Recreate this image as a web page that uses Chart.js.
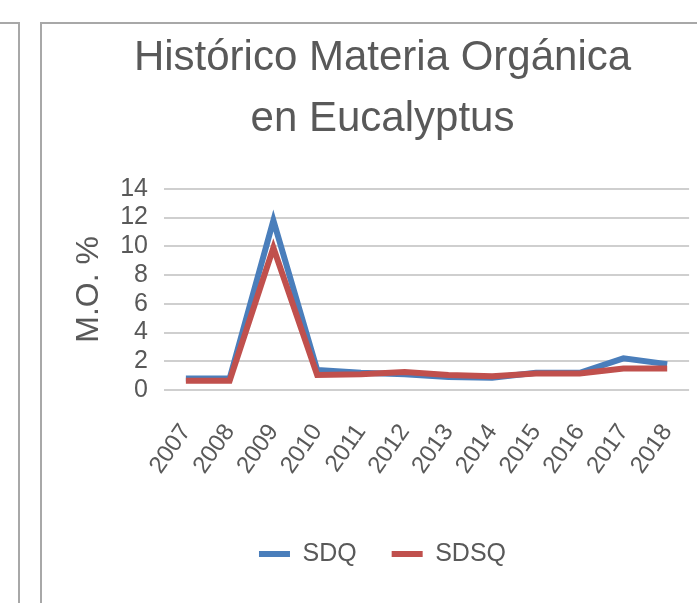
<!DOCTYPE html>
<html>
<head>
<meta charset="utf-8">
<script src="https://cdn.jsdelivr.net/npm/chart.js@4.4.1/dist/chart.umd.min.js"></script>
<style>
  html, body { margin: 0; padding: 0; background: #fff; overflow: hidden; }
  body { width: 697px; height: 603px; position: relative; }
  .panel-left { position: absolute; left: 0; top: 22px; width: 18px; height: 700px;
    border-top: 2px solid #a8a8a8; border-right: 2px solid #a8a8a8; }
  .panel-chart { position: absolute; left: 40px; top: 22px; width: 700px; height: 700px;
    border-top: 2px solid #a8a8a8; border-left: 2px solid #a8a8a8; }
  #chart { position: absolute; left: 43px; top: 24px; }
</style>
</head>
<body>
<div class="panel-left"></div>
<div class="panel-chart"></div>
<canvas id="chart" width="678" height="579"></canvas>
<script>
// HISTORICO MATERIA ORGANICA - EUCALYPTUS

const years = ["2007", "2008", "2009", "2010", "2011", "2012", "2013", "2014", "2015", "2016", "2017", "2018"];
const sdq = [0.8, 0.8, 11.8, 1.4, 1.2, 1.1, 0.9, 0.85, 1.2, 1.2, 2.2, 1.8];
const sdsq = [0.65, 0.65, 9.9, 1.05, 1.1, 1.25, 1.05, 0.95, 1.15, 1.15, 1.5, 1.5];
const yTicks = [0, 2, 4, 6, 8, 10, 12, 14];

const fontFamily = "'Liberation Sans', Arial, sans-serif";
const textColor = "#595959";

const data = {
  labels: years,
  datasets: [
    {
      label: "SDQ",
      data: sdq,
      borderColor: "#4a7ebb",
      backgroundColor: "#4a7ebb",
      borderWidth: 6,
      pointRadius: 0,
      tension: 0,
      order: 1,
    },
    {
      label: "SDSQ",
      data: sdsq,
      borderColor: "#c0504d",
      backgroundColor: "#c0504d",
      borderWidth: 6,
      pointRadius: 0,
      tension: 0,
      order: 0, // red drawn on top like the original
    },
  ],
};

const chart = new Chart(document.getElementById("chart"), {
  type: "line",
  data: data,
  options: {
    responsive: false,
    devicePixelRatio: 1,
    animation: false,
    layout: { padding: { top: 0, right: 29, bottom: 26.5, left: 30 } },
    plugins: {
      title: {
        display: true,
        text: ["Histórico Materia Orgánica", "en Eucalyptus"],
        color: textColor,
        font: { family: fontFamily, size: 42, weight: "normal", lineHeight: 1.45 },
        padding: { top: 4, bottom: 39 },
      },
      legend: {
        position: "bottom",
        labels: {
          color: textColor,
          font: { family: fontFamily, size: 25 },
          boxWidth: 31,
          boxHeight: 6,
          padding: 35,
          sort: (a, b) => a.datasetIndex - b.datasetIndex,
          generateLabels: (chart) =>
            Chart.defaults.plugins.legend.labels.generateLabels(chart).map((item) => {
              item.lineWidth = 0;
              return item;
            }),
        },
      },
      tooltip: { enabled: false },
    },
    scales: {
      x: {
        offset: true,
        grid: { display: false, drawTicks: false },
        border: { display: false },
        ticks: {
          color: textColor,
          font: { family: fontFamily, size: 24 },
          minRotation: 55,
          maxRotation: 55,
          autoSkip: false,
          padding: 29,
        },
        afterFit: (scale) => { scale.height = 116.5; },
      },
      y: {
        min: 0,
        max: 14,
        afterBuildTicks: (scale) => { scale.ticks = yTicks.map((v) => ({ value: v })); },
        grid: { color: "#cfcfcf", lineWidth: 2, drawTicks: false },
        border: { display: false },
        ticks: {
          color: textColor,
          font: { family: fontFamily, size: 25 },
          autoSkip: false,
          padding: 16,
        },
        title: {
          display: true,
          text: "M.O. %",
          color: textColor,
          font: { family: fontFamily, size: 32, lineHeight: 1 },
          padding: { top: 0, bottom: 15 },
        },
        afterFit: (scale) => { scale.width = 91; },
      },
    },
  },
});
</script>
</body>
</html>
